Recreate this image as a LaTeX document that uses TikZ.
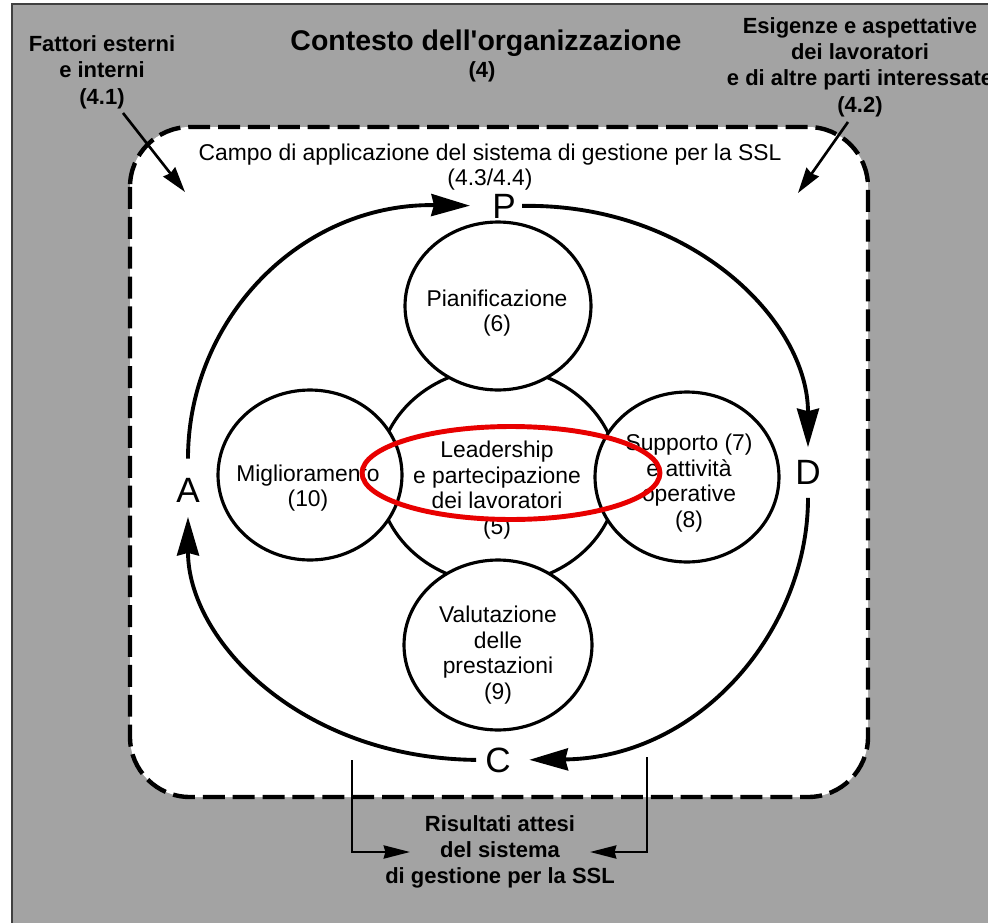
\documentclass[tikz,border=0pt]{standalone}
\usepackage{fontspec}
\setmainfont{Liberation Sans}
\usetikzlibrary{arrows.meta,shapes.geometric}
\definecolor{bggray}{gray}{0.64}
\begin{document}
\begin{tikzpicture}[x=0.02cm,y=-0.02cm,
  graytxt/.style={font=\fontsize{12.5pt}{15pt}\selectfont\bfseries, align=center, inner sep=0pt},
  titletxt/.style={font=\fontsize{16.2pt}{18pt}\selectfont\bfseries, inner sep=0pt},
  intxt/.style={font=\fontsize{13pt}{14.6pt}\selectfont, align=center, inner sep=0pt},
  letter/.style={font=\fontsize{20pt}{20pt}\selectfont, inner sep=0pt},
  bubble/.style={ellipse, draw=black, line width=1.8pt, fill=white, inner sep=0pt},
  pdca/.style={line width=2.2pt, -{Stealth[length=22pt, width=12.5pt, inset=1.5pt]}},
  smallarr/.style={line width=1.5pt, -{Stealth[length=14.5pt, width=8.5pt, inset=1pt]}},
  bracket/.style={line width=1.2pt, -{Stealth[length=15pt, width=7.5pt, inset=1pt]}},
  scopebox/.style={draw=black, line width=2.5pt, dash pattern=on 12.5pt off 4.5pt, fill=white, rounded corners=1.2cm}
]
\useasboundingbox (0,0) rectangle (988,923);
\fill[white] (0,0) rectangle (988,923);
\fill[bggray] (12,4) rectangle (988,923);
\draw[black!75, line width=1.6pt] (12,923) -- (12,4) -- (988,4);

% scope of the OH&S management system
\draw[scopebox] (130,127) rectangle (868,797);

% circles
\node[bubble, minimum width=4.8cm, minimum height=4.32cm] (lead) at (498,476) {};
\node[bubble, minimum width=3.72cm, minimum height=3.36cm] (plan) at (498,306) {};
\node[bubble, minimum width=3.68cm, minimum height=3.4cm] (migl) at (310,475) {};
\node[bubble, minimum width=3.68cm, minimum height=3.4cm] (supp) at (687,477) {};
\node[bubble, minimum width=3.76cm, minimum height=3.4cm] (valu) at (498,645) {};

% circle texts
\node[intxt] (plant) at (497,313) {Pianificazione\\(6)};
\node[intxt] (miglt) at (308,488) {Miglioramento\\(10)};
\node[intxt] (leadt) at (497,490) {Leadership\\e partecipazione\\dei lavoratori\\(5)};
\node[intxt] (suppt) at (689,483) {Supporto (7)\\e attività\\operative\\(8)};
\node[intxt] (valut) at (498,655) {Valutazione\\delle\\prestazioni\\(9)};

% scope text
\node[intxt] (campo) at (490,167) {Campo di applicazione del sistema di gestione per la SSL\\(4.3/4.4)};

% gray-area texts
\node[titletxt] (title) at (486,43) {Contesto dell\textquotesingle organizzazione};
\node[graytxt] (titlen) at (482,72) {(4)};
\node[graytxt] (fatt) at (102,72) {Fattori esterni\\e interni\\(4.1)};
\node[graytxt] (esig) at (860,67) {Esigenze e aspettative\\dei lavoratori\\e di altre parti interessate\\(4.2)};
\node[graytxt] (ris) at (500,852) {Risultati attesi\\del sistema\\di gestione per la SSL};

% PDCA letters
\node[letter] (P) at (504,206) {P};
\node[letter] (D) at (808,472) {D};
\node[letter] (C) at (498,760) {C};
\node[letter] (A) at (188,490) {A};

% PDCA arcs
\draw[pdca, shorten <=10.8pt, shorten >=12.5pt] (A.north) .. controls (188,320) and (300,203) .. (P.west);
\draw[pdca, shorten <=3.4pt, shorten >=7pt] (P.east) .. controls (690,203) and (808,320) .. (D.north);
\draw[pdca, shorten <=7.7pt, shorten >=10.4pt] (D.south) .. controls (808,630) and (700,758) .. (C.east);
\draw[pdca, shorten <=5pt, shorten >=8.2pt] (C.west) .. controls (300,758) and (188,640) .. (A.south);

% external/internal arrows
\coordinate (s41) at (123,113);
\coordinate (e41) at (185,192);
\coordinate (s42) at (848,122);
\coordinate (e42) at (798,193);
\draw[smallarr] (s41) -- (e41);
\draw[smallarr] (s42) -- (e42);

% outcome brackets
\coordinate (bl) at (352,760);
\coordinate (tl) at (410,852);
\coordinate (br) at (647,757);
\coordinate (tr) at (590,852);
\draw[bracket] (bl) |- (tl);
\draw[bracket] (br) |- (tr);

% red highlight
\node[ellipse, draw={rgb,255:red,232;green,0;blue,0}, line width=2.8pt, minimum width=5.96cm, minimum height=1.86cm, inner sep=0pt] (hl) at (511,473) {};
\end{tikzpicture}
\end{document}
